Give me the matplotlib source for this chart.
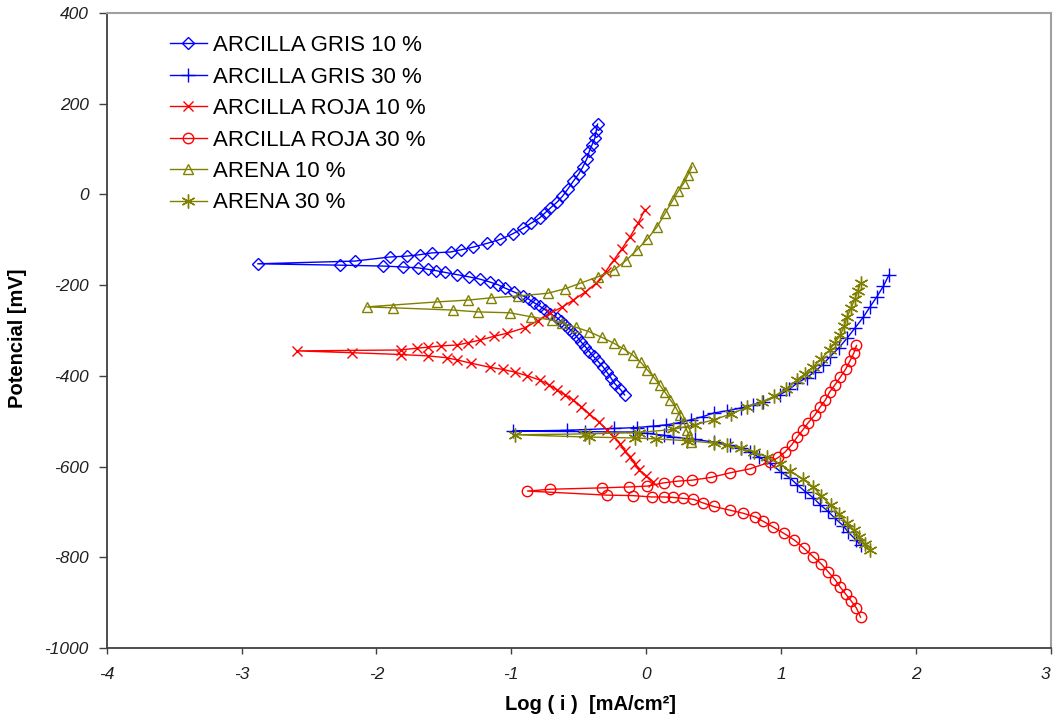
import matplotlib
matplotlib.use('Agg')
import matplotlib.pyplot as plt

plt.rcParams['font.family'] = ['Liberation Sans', 'DejaVu Sans']
plt.rcParams['axes.unicode_minus'] = False

# curves, ordered from the cathodic end, through Ecorr, to the anodic end
# ARCILLA GRIS 10 %
gris10_x = [-0.16, -0.19, -0.23, -0.26, -0.29, -0.32, -0.36, -0.39, -0.42, -0.45, -0.48, -0.51,
            -0.54, -0.57, -0.60, -0.63, -0.66, -0.71, -0.75, -0.79, -0.83, -0.87, -0.91, -0.98,
            -1.05, -1.10, -1.16, -1.23, -1.31, -1.40, -1.49, -1.56, -1.62, -1.69, -1.80, -1.95,
            -2.27,
            -2.88,
            -2.16, -1.90, -1.77, -1.68, -1.59, -1.45, -1.37, -1.28, -1.18, -1.08, -0.99, -0.91,
            -0.85, -0.79, -0.75, -0.71, -0.66, -0.62, -0.58, -0.54, -0.50, -0.47, -0.44, -0.42,
            -0.40, -0.38, -0.37, -0.36]
gris10_e = [-442, -430, -418, -405, -392, -380, -367, -357, -347, -336, -326, -315,
            -305, -296, -288, -280, -272, -263, -254, -246, -239, -231, -224, -215,
            -206, -199, -193, -187, -182, -177, -172, -168, -165, -162, -160, -158,
            -156,
            -153,
            -147, -138, -136, -133, -129, -127, -122, -116, -108, -99, -87, -74,
            -63, -52, -41, -30, -17, -4, 12, 29, 45, 60, 78, 96,
            110, 124, 140, 155]

# ARCILLA GRIS 30 %
gris30_x = [1.59, 1.56, 1.50, 1.46, 1.40, 1.35, 1.29, 1.24, 1.18, 1.12, 1.07, 1.00, 0.92,
            0.84, 0.77, 0.70, 0.62, 0.50, 0.36, 0.20, 0.13, 0.01, -0.10, -0.45,
            -0.99,
            -0.59, -0.24, -0.07, 0.05, 0.15, 0.25, 0.33, 0.42, 0.50, 0.60, 0.70, 0.79, 0.87,
            0.99, 1.06, 1.12, 1.19, 1.25, 1.31, 1.36, 1.43, 1.49, 1.55, 1.61, 1.66, 1.71,
            1.76, 1.80]
gris30_e = [-774, -763, -745, -730, -714, -699, -684, -669, -655, -640, -626, -612, -593,
            -580, -568, -560, -553, -546, -540, -535, -531, -527, -524, -523,
            -522,
            -520, -516, -514, -511, -508, -503, -497, -490, -482, -477, -471, -464, -457,
            -442, -430, -416, -404, -391, -375, -359, -338, -317, -294, -271, -248, -226,
            -202, -178]

# ARCILLA ROJA 10 %
roja10_x = [0.05, 0.00, -0.05, -0.08, -0.12, -0.16, -0.19, -0.24, -0.29, -0.35, -0.42, -0.48,
            -0.54, -0.60, -0.66, -0.72, -0.79, -0.88, -0.97, -1.06, -1.16, -1.30, -1.40, -1.48,
            -1.62, -1.82, -2.18,
            -2.59,
            -1.82, -1.70, -1.62, -1.52, -1.40, -1.32, -1.23, -1.13, -1.03, -0.90, -0.80, -0.71,
            -0.62, -0.54, -0.45, -0.37, -0.30, -0.24, -0.18, -0.12, -0.06, -0.01]
roja10_e = [-633, -620, -608, -594, -579, -565, -550, -535, -519, -502, -484, -468,
            -453, -442, -431, -420, -409, -400, -392, -386, -381, -372, -365, -360,
            -356, -353, -349,
            -345,
            -343, -339, -337, -334, -332, -327, -321, -313, -306, -294, -278, -262,
            -248, -233, -215, -196, -170, -145, -120, -94, -64, -34]

# ARCILLA ROJA 30 %
roja30_x = [1.59, 1.56, 1.52, 1.48, 1.44, 1.40, 1.35, 1.30, 1.24, 1.17, 1.10, 1.02, 0.94,
            0.87, 0.81, 0.72, 0.62, 0.50, 0.42, 0.35, 0.27, 0.20, 0.13, 0.04, -0.10, -0.29,
            -0.88,
            -0.71, -0.33, -0.13, 0.01, 0.13, 0.24, 0.34, 0.48, 0.62, 0.77, 0.92, 0.98, 1.03,
            1.08, 1.12, 1.16, 1.20, 1.25, 1.29, 1.33, 1.36, 1.40, 1.44, 1.48, 1.51, 1.54, 1.56]
roja30_e = [-932, -912, -896, -881, -866, -849, -832, -815, -799, -780, -762, -747, -733,
            -721, -711, -703, -696, -688, -680, -672, -670, -668, -667, -667, -664, -663,
            -654,
            -650, -647, -645, -643, -636, -632, -630, -624, -614, -605, -590, -580, -568,
            -552, -535, -520, -504, -487, -469, -453, -436, -420, -403, -385, -368, -350, -333]

# ARENA 10 %
arena10_x = [0.33, 0.32, 0.30, 0.28, 0.25, 0.22, 0.18, 0.14, 0.10, 0.06, 0.01, -0.04, -0.10,
             -0.17, -0.24, -0.33, -0.42, -0.52, -0.62, -0.70, -0.85, -1.01, -1.25, -1.43, -1.88,
             -2.07,
             -1.55, -1.32, -1.15, -0.95, -0.73, -0.60, -0.49, -0.36, -0.24, -0.15, -0.07, 0.01,
             0.08, 0.14, 0.20, 0.24, 0.28, 0.31, 0.34]
arena10_e = [-546, -532, -519, -502, -486, -470, -453, -436, -420, -404, -387, -370, -354,
             -340, -328, -315, -303, -293, -284, -277, -270, -261, -259, -255, -250,
             -248,
             -237, -233, -228, -224, -218, -208, -196, -182, -167, -146, -123, -98,
             -72, -42, -12, 8, 25, 43, 61]

# ARENA 30 %
arena30_x = [1.66, 1.62, 1.58, 1.54, 1.49, 1.43, 1.37, 1.30, 1.24, 1.16, 1.07, 0.99, 0.90,
             0.80, 0.70, 0.60, 0.50, 0.30, 0.07, -0.08, -0.42,
             -0.97,
             -0.45, -0.05, 0.20, 0.36, 0.50, 0.63, 0.75, 0.86, 0.95, 1.04, 1.12, 1.18, 1.24,
             1.30, 1.36, 1.40, 1.44, 1.47, 1.49, 1.52, 1.55, 1.57, 1.59]
arena30_e = [-784, -770, -755, -740, -725, -705, -685, -665, -645, -627, -610, -594, -579,
             -568, -560, -553, -548, -543, -539, -537, -535,
             -530,
             -528, -525, -518, -508, -497, -484, -469, -457, -445, -428, -409, -395, -380,
             -362, -343, -327, -310, -290, -271, -250, -230, -212, -196]

series = [
    ('ARCILLA GRIS 10 %', gris10_x, gris10_e, '#0000ff', 'D', 6.5, 'none'),
    ('ARCILLA GRIS 30 %', gris30_x, gris30_e, '#0000ff', '+', 10, '#0000ff'),
    ('ARCILLA ROJA 10 %', roja10_x, roja10_e, '#ff0000', 'x', 7.5, '#ff0000'),
    ('ARCILLA ROJA 30 %', roja30_x, roja30_e, '#ff0000', 'o', 7.5, 'none'),
    ('ARENA 10 %', arena10_x, arena10_e, '#808000', '^', 7.5, 'none'),
    ('ARENA 30 %', arena30_x, arena30_e, '#808000', (6, 2, 0), 10, '#808000'),
]

fig = plt.figure(figsize=(10.53, 7.2), dpi=100)
ax = fig.add_axes([0.1013, 0.1, 0.8965, 0.882])

for label, x, e, col, mk, ms, fc in series:
    ax.plot(x, e, color=col, lw=1, marker=mk, ms=ms, mfc=fc, mec=col, mew=1, label=label)

ax.set_xlim(-4, 3)
ax.set_ylim(-1000, 400)
ax.set_xticks(range(-4, 4))
ax.set_yticks(range(-1000, 401, 200))

for s in ['left', 'bottom']:
    ax.spines[s].set_color('#404040')
    ax.spines[s].set_linewidth(1.3)
for s in ['top', 'right']:
    ax.spines[s].set_color('#a0a0a0')
    ax.spines[s].set_linewidth(1.5)

ax.tick_params(axis='y', direction='out', length=6, width=1, color='#404040', pad=7,
               labelsize=12.5, labelcolor='#202020')
ax.tick_params(axis='x', direction='out', length=4, width=1, color='#404040', pad=10,
               labelsize=12.5, labelcolor='#202020')
for t in ax.get_xticklabels() + ax.get_yticklabels():
    t.set_fontstyle('italic')
# the last label sits on the figure edge, keep it inside
ax.get_xticklabels()[-1].set_horizontalalignment('right')

ax.set_xlabel('Log ( i )  [mA/cm²]', fontsize=14.5, fontweight='bold')
ax.set_ylabel('Potencial [mV]', fontsize=14.5, fontweight='bold')
ax.xaxis.set_label_coords(0.512, -0.074)
ax.yaxis.set_label_coords(-0.084, 0.488)

ax.legend(loc='upper left', bbox_to_anchor=(0.067, 0.965), frameon=False, fontsize=16,
          handlelength=1.65, handletextpad=0.27, labelspacing=0.47, borderpad=0,
          borderaxespad=0)

fig.savefig('out.png', dpi=100)
